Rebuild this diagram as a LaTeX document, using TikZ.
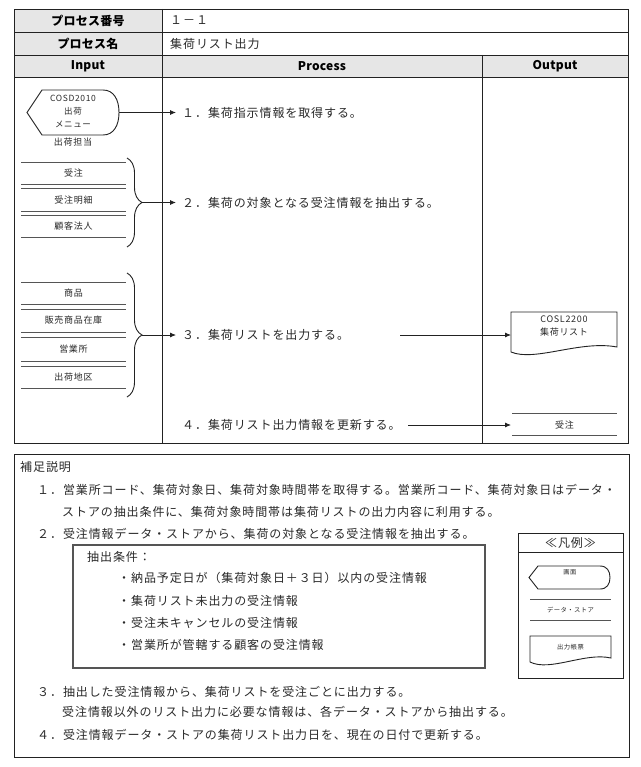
\documentclass[tikz,border=0pt]{standalone}
\usepackage{fontspec}
\usetikzlibrary{arrows.meta,decorations.pathreplacing,calc}
\newfontfamily\jp[LetterSpace=7.5]{Noto Sans CJK JP}
\newfontfamily\jph[LetterSpace=2]{Noto Sans CJK JP}
\definecolor{hdr}{HTML}{E6E6E6}
\definecolor{txt}{HTML}{2A2A2A}
\definecolor{ln}{HTML}{222222}
\definecolor{gln}{HTML}{555555}
\begin{document}
\begin{tikzpicture}[x=1pt,y=-1pt,
  body/.style={font=\jp\fontsize{12}{14}\selectfont, text=txt, inner sep=0pt, anchor=west},
  small/.style={font=\jp\fontsize{9}{13}\selectfont, text=txt, inner sep=0pt, align=center},
  tiny/.style={font=\jp\fontsize{6.3}{7}\selectfont, text=txt, inner sep=0pt},
  hd/.style={font=\jph\bfseries\fontsize{12}{14}\selectfont, text=black, inner sep=0pt},
  frame/.style={draw=ln, line width=0.9pt},
  dsline/.style={draw=gln, line width=0.9pt},
  arr/.style={draw=ln, line width=0.8pt, -{Latex[length=6pt,width=5pt]}},
  brc/.style={draw=ln, line width=0.9pt, decorate, decoration={brace, amplitude=15pt}},
]
\useasboundingbox[fill=white] (0,0) rectangle (640,767);

% ---------- table ----------
\fill[hdr] (14,9) rectangle (162,55);
\fill[hdr] (14,55) rectangle (628,77);
\draw[frame] (14,32) -- (628,32);
\draw[frame] (14,55) -- (628,55);
\draw[frame] (14,77) -- (628,77);
\draw[frame] (162,9) -- (162,443);
\draw[frame] (482,55) -- (482,443);
\draw[frame] (14,9) rectangle (628,443);

\node[hd] (hno) at (88,20.5) {プロセス番号};
\node[hd] (hname) at (88,43.5) {プロセス名};
\node[body] (vno) at (170,20.5) {１－１};
\node[body] (vname) at (170,43.5) {集荷リスト出力};
\node[hd] (hin) at (88,66) {Input};
\node[hd] (hpr) at (322,66) {Process};
\node[hd] (hout) at (555,66) {Output};

% ---------- input: screen ----------
\draw[frame] (42,90) -- (103,90) .. controls (114,90) and (119,100) .. (119,112.5)
  .. controls (119,125) and (114,135) .. (103,135) -- (42,135) -- (27,112.5) -- cycle;
\node[small, font=\jp\fontsize{8.5}{13}\selectfont] (scr) at (73,111) {COSD2010\\出荷\\メニュー};
\coordinate (scrE) at (119,112.5);
\node[small] (tanto) at (73,142) {出荷担当};

% ---------- input: data stores group 1 ----------
\foreach \y in {162,184,188,211,215,237} \draw[dsline] (21,\y) -- (126,\y);
\node[small] (ds1) at (73.5,173) {受注};
\node[small] (ds2) at (73.5,200) {受注明細};
\node[small] (ds3) at (73.5,226) {顧客法人};
\draw[brc] (127,158) -- (127,247);
\coordinate (b1) at (142,202.5);

% ---------- input: data stores group 2 ----------
\foreach \y in {282,304,309,332,337,361,366,388} \draw[dsline] (21,\y) -- (126,\y);
\node[small] (ds4) at (73.5,293) {商品};
\node[small] (ds5) at (73.5,320) {販売商品在庫};
\node[small] (ds6) at (73.5,349) {営業所};
\node[small] (ds7) at (73.5,377) {出荷地区};
\draw[brc] (127,273) -- (127,397);
\coordinate (b2) at (142,335);

% ---------- process ----------
\node[body] (p1) at (182,112.5) {１．集荷指示情報を取得する。};
\node[body] (p2) at (182,202.5) {２．集荷の対象となる受注情報を抽出する。};
\node[body] (p3) at (182,335) {３．集荷リストを出力する。};
\node[body] (p4) at (182,425) {４．集荷リスト出力情報を更新する。};

\draw[arr, shorten >=6pt] (scrE) -- (scrE -| p1.west);
\draw[arr, shorten >=6pt] (b1) -- (b1 -| p2.west);
\draw[arr, shorten >=6pt] (b2) -- (b2 -| p3.west);

% ---------- output ----------
\draw[frame] (511,312) -- (617,312) -- (617,347) .. controls (580,340) and (535,362) .. (511,352) -- cycle;
\node[small] (doc) at (564,326) {COSL2200\\集荷リスト};
\coordinate (docW) at (511,335);
\coordinate (o3) at (400,335);
\draw[arr] (o3) -- (docW);

\draw[dsline] (512,413) -- (617,413);
\draw[dsline] (512,435) -- (617,435);
\node[small] (dsout) at (564.5,425) {受注};
\coordinate (dsoW) at (511,425);
\coordinate (o4) at (408,425);
\draw[arr] (o4) -- (dsoW);

% ---------- notes ----------
\draw[frame] (14,454) rectangle (629,757);
\node[body] (sup) at (20,467) {補足説明};
\node[body] (n1) at (37,490) {１．営業所コード、集荷対象日、集荷対象時間帯を取得する。営業所コード、集荷対象日はデータ・};
\node[body] (n1b) at (62,512) {ストアの抽出条件に、集荷対象時間帯は集荷リストの出力内容に利用する。};
\node[body] (n2) at (37,534) {２．受注情報データ・ストアから、集荷の対象となる受注情報を抽出する。};
\draw[draw=gln, line width=1.1pt] (73,545) rectangle (485,668);
\node[body] (cond) at (87,557) {抽出条件：};
\node[body] (c1) at (118,578) {・納品予定日が（集荷対象日＋３日）以内の受注情報};
\node[body] (c2) at (118,601) {・集荷リスト未出力の受注情報};
\node[body] (c3) at (118,623) {・受注未キャンセルの受注情報};
\node[body] (c4) at (118,645) {・営業所が管轄する顧客の受注情報};
\node[body] (n3) at (37,692) {３．抽出した受注情報から、集荷リストを受注ごとに出力する。};
\node[body] (n3b) at (62,712) {受注情報以外のリスト出力に必要な情報は、各データ・ストアから抽出する。};
\node[body] (n4) at (37,735) {４．受注情報データ・ストアの集荷リスト出力日を、現在の日付で更新する。};

% ---------- legend ----------
\draw[frame] (518,533) rectangle (623,678);
\draw[frame] (518,552) -- (623,552);
\node[body, anchor=center] (lgt) at (570.5,542.5) {≪凡例≫};
\draw[frame] (538,566) -- (600,566) .. controls (607,566) and (610,571) .. (610,577.5)
  .. controls (610,584) and (607,589) .. (600,589) -- (538,589) -- (529,577.5) -- cycle;
\node[tiny] (lg1) at (570,572) {画面};
\draw[dsline] (530,599) -- (611,599);
\draw[dsline] (530,620) -- (611,620);
\node[tiny] (lg2) at (570.5,610) {データ・ストア};
\draw[frame] (530,636) -- (611,636) -- (611,658) .. controls (585,652) and (550,672) .. (530,662) -- cycle;
\node[tiny] (lg3) at (570.5,647) {出力帳票};
\end{tikzpicture}
\end{document}
